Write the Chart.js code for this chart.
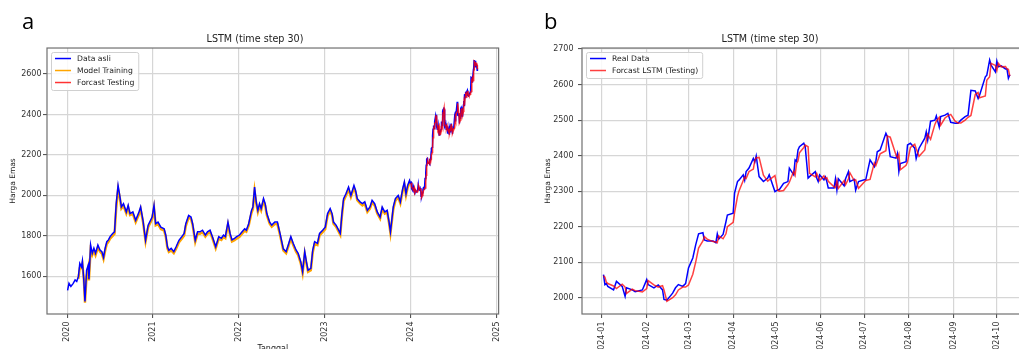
<!DOCTYPE html>
<html>
<head>
<meta charset="utf-8">
<title>LSTM (time step 30)</title>
<script src="https://cdn.jsdelivr.net/npm/chart.js@4.4.0/dist/chart.umd.min.js"></script>
<style>
  html, body { margin: 0; padding: 0; background: #fff; overflow: hidden; width: 1019px; height: 349px; }
  #panelA { position: absolute; left: 0; top: 0; }
  #panelB { position: absolute; left: 510px; top: 0; }
  .huruf { position: absolute; font-family: 'Open Sans', sans-serif; font-size: 22px; line-height: 22px; color: #000; }
</style>
</head>
<body>
<canvas id="panelA" width="510" height="380"></canvas>
<canvas id="panelB" width="530" height="380"></canvas>
<div class="huruf" style="left:22px; top:9px;">a</div>
<div class="huruf" style="left:544px; top:9px;">b</div>
<script>
// Data latih 2020 - 2023
const tglLatih = [
    '2020-01-03','2020-01-09','2020-01-17','2020-01-27','2020-02-04','2020-02-11','2020-02-18','2020-02-24','2020-03-02','2020-03-06',
    '2020-03-12','2020-03-17','2020-03-24','2020-03-31','2020-04-03','2020-04-10','2020-04-17','2020-04-24','2020-05-01','2020-05-11',
    '2020-05-20','2020-05-28','2020-06-04','2020-06-11','2020-06-18','2020-06-25','2020-07-02','2020-07-13','2020-07-21','2020-07-28',
    '2020-08-05','2020-08-12','2020-08-19','2020-08-28','2020-09-09','2020-09-17','2020-09-25','2020-10-07','2020-10-19','2020-11-02',
    '2020-11-09','2020-11-19','2020-11-30','2020-12-11','2020-12-28','2021-01-05','2021-01-12','2021-01-22','2021-02-03','2021-02-17',
    '2021-02-24','2021-03-03','2021-03-09','2021-03-19','2021-03-30','2021-04-09','2021-04-21','2021-05-03','2021-05-13','2021-05-20',
    '2021-06-01','2021-06-11','2021-06-18','2021-06-29','2021-07-09','2021-07-19','2021-07-30','2021-08-11','2021-08-20','2021-08-31',
    '2021-09-10','2021-09-24','2021-10-07','2021-10-18','2021-10-27','2021-11-04','2021-11-15','2021-11-24','2021-12-02','2021-12-13',
    '2021-12-22','2022-01-03','2022-01-14','2022-01-25','2022-02-01','2022-02-11','2022-02-23','2022-03-01','2022-03-08','2022-03-15',
    '2022-03-22','2022-03-29','2022-04-05','2022-04-15','2022-04-22','2022-04-29','2022-05-11','2022-05-20','2022-06-02','2022-06-13',
    '2022-06-24','2022-07-08','2022-07-20','2022-07-29','2022-08-09','2022-08-19','2022-08-31','2022-09-09','2022-09-20','2022-09-28',
    '2022-10-07','2022-10-14','2022-10-21','2022-11-02','2022-11-10','2022-11-18','2022-11-30','2022-12-09','2022-12-22','2023-01-02',
    '2023-01-12','2023-01-23','2023-01-31','2023-02-06','2023-02-17','2023-02-28','2023-03-07','2023-03-14','2023-03-21','2023-03-31',
    '2023-04-11','2023-04-21','2023-05-04','2023-05-11','2023-05-18','2023-05-30','2023-06-09','2023-06-19','2023-06-30','2023-07-11',
    '2023-07-20','2023-07-31','2023-08-11','2023-08-23','2023-09-01','2023-09-12','2023-09-22','2023-09-29','2023-10-06','2023-10-18',
    '2023-10-27','2023-11-08','2023-11-17','2023-11-27','2023-12-04','2023-12-11','2023-12-18','2023-12-26','2023-12-29'
];
const hargaLatih = [
    1530, 1565, 1550, 1565, 1582, 1575, 1598, 1664, 1647, 1676,
    1582, 1475, 1630, 1655, 1585, 1755, 1714, 1739, 1714, 1755,
    1730, 1722, 1693, 1739, 1771, 1780, 1796, 1812, 1820, 1959,
    2049, 2000, 1943, 1959, 1918, 1951, 1910, 1918, 1877, 1918,
    1943, 1877, 1778, 1853, 1893, 1951, 1860, 1868, 1843, 1835,
    1803, 1746, 1729, 1738, 1722, 1746, 1778, 1796, 1812, 1860,
    1901, 1893, 1860, 1778, 1820, 1820, 1828, 1804, 1820, 1828,
    1796, 1746, 1796, 1788, 1804, 1796, 1868, 1812, 1780, 1788,
    1796, 1804, 1820, 1835, 1828, 1860, 1926, 1943, 2041, 1968,
    1926, 1959, 1935, 1984, 1959, 1910, 1868, 1853, 1868, 1868,
    1812, 1736, 1722, 1755, 1796, 1763, 1730, 1714, 1672, 1623,
    1722, 1672, 1630, 1639, 1730, 1771, 1763, 1812, 1828, 1843,
    1910, 1935, 1910, 1868, 1853, 1828, 1812, 1910, 1984, 2008,
    2041, 2000, 2049, 2024, 1984, 1968, 1959, 1968, 1926, 1943,
    1976, 1959, 1918, 1893, 1943, 1918, 1926, 1877, 1820, 1943,
    1984, 2000, 1968, 2033, 2066, 2008, 2049, 2074, 2062
];
const prediksiLatih = [
    null, null, null, null, null, null, 1588, 1640, 1640, 1660,
    1590, 1470, 1600, 1642, 1580, 1728, 1705, 1726, 1704, 1742,
    1722, 1712, 1685, 1726, 1760, 1770, 1786, 1800, 1810, 1935,
    2030, 1992, 1935, 1948, 1910, 1940, 1902, 1908, 1868, 1906,
    1932, 1870, 1772, 1842, 1882, 1938, 1852, 1858, 1834, 1826,
    1795, 1738, 1720, 1728, 1714, 1736, 1768, 1786, 1802, 1848,
    1890, 1884, 1852, 1770, 1810, 1810, 1818, 1796, 1810, 1818,
    1788, 1738, 1786, 1780, 1794, 1788, 1855, 1804, 1772, 1778,
    1786, 1795, 1810, 1825, 1820, 1850, 1914, 1932, 2022, 1960,
    1918, 1948, 1926, 1972, 1950, 1902, 1860, 1845, 1858, 1858,
    1804, 1728, 1714, 1745, 1786, 1755, 1722, 1705, 1664, 1615,
    1710, 1664, 1622, 1630, 1718, 1760, 1754, 1802, 1818, 1833,
    1898, 1924, 1902, 1860, 1845, 1820, 1804, 1898, 1972, 1998,
    2030, 1992, 2036, 2015, 1976, 1960, 1950, 1958, 1918, 1934,
    1965, 1950, 1910, 1885, 1932, 1910, 1916, 1870, 1812, 1930,
    1974, 1990, 1960, 2022, 2054, 2000, 2038, 2062, 2054
];

// Data uji 2024 (dipakai di panel a dan b)
const tglUji = [
    '2024-01-02','2024-01-03','2024-01-04','2024-01-05','2024-01-09','2024-01-11','2024-01-15','2024-01-17','2024-01-18','2024-01-22',
    '2024-01-24','2024-01-29','2024-02-01','2024-02-02','2024-02-06','2024-02-09','2024-02-12','2024-02-13','2024-02-15','2024-02-19',
    '2024-02-21','2024-02-23','2024-02-26','2024-02-28','2024-03-01','2024-03-04','2024-03-06','2024-03-08','2024-03-11','2024-03-12',
    '2024-03-14','2024-03-18','2024-03-20','2024-03-21','2024-03-22','2024-03-25','2024-03-27','2024-03-28','2024-04-01','2024-04-02',
    '2024-04-04','2024-04-05','2024-04-08','2024-04-09','2024-04-10','2024-04-12','2024-04-15','2024-04-16','2024-04-17','2024-04-19',
    '2024-04-22','2024-04-25','2024-04-26','2024-04-30','2024-05-02','2024-05-03','2024-05-06','2024-05-09','2024-05-10','2024-05-13',
    '2024-05-14','2024-05-15','2024-05-16','2024-05-17','2024-05-20','2024-05-21','2024-05-23','2024-05-24','2024-05-28','2024-05-29',
    '2024-05-30','2024-05-31','2024-06-03','2024-06-04','2024-06-05','2024-06-06','2024-06-10','2024-06-11','2024-06-12','2024-06-13',
    '2024-06-17','2024-06-18','2024-06-20','2024-06-21','2024-06-24','2024-06-25','2024-06-27','2024-07-01','2024-07-02','2024-07-05',
    '2024-07-08','2024-07-09','2024-07-10','2024-07-12','2024-07-16','2024-07-17','2024-07-19','2024-07-23','2024-07-24','2024-07-25',
    '2024-07-26','2024-07-30','2024-07-31','2024-08-02','2024-08-05','2024-08-06','2024-08-08','2024-08-12','2024-08-13','2024-08-14',
    '2024-08-16','2024-08-19','2024-08-20','2024-08-22','2024-08-23','2024-08-26','2024-08-28','2024-08-30','2024-09-02','2024-09-04',
    '2024-09-06','2024-09-09','2024-09-11','2024-09-13','2024-09-16','2024-09-18','2024-09-19','2024-09-23','2024-09-24','2024-09-26',
    '2024-09-27','2024-09-30','2024-10-01','2024-10-02','2024-10-04','2024-10-07','2024-10-08','2024-10-09','2024-10-10'
];
const hargaUji = [
    2065, 2037, 2040, 2032, 2022, 2046, 2032, 2004, 2028, 2022,
    2017, 2022, 2051, 2037, 2028, 2036, 2022, 1995, 1993, 2013,
    2028, 2037, 2032, 2040, 2084, 2112, 2149, 2180, 2183, 2163,
    2160, 2160, 2155, 2180, 2165, 2178, 2214, 2233, 2238, 2295,
    2327, 2331, 2346, 2331, 2355, 2365, 2392, 2382, 2399, 2341,
    2327, 2337, 2346, 2299, 2304, 2304, 2322, 2327, 2365, 2346,
    2388, 2384, 2416, 2425, 2435, 2425, 2337, 2341, 2355, 2337,
    2327, 2346, 2332, 2340, 2327, 2309, 2309, 2335, 2303, 2335,
    2315, 2335, 2355, 2327, 2333, 2303, 2327, 2332, 2332, 2388,
    2369, 2383, 2411, 2416, 2463, 2454, 2397, 2393, 2406, 2355,
    2378, 2383, 2430, 2435, 2421, 2392, 2421, 2449, 2467, 2444,
    2497, 2500, 2512, 2481, 2510, 2514, 2519, 2494, 2491, 2491,
    2500, 2510, 2514, 2584, 2582, 2561, 2570, 2622, 2626, 2669,
    2655, 2636, 2666, 2650, 2653, 2644, 2644, 2618, 2628
];
const prediksiUji = [
    2062, 2058, 2044, 2040, 2033, 2026, 2038, 2030, 2012, 2024,
    2020, 2016, 2026, 2048, 2036, 2030, 2034, 2022, 1990, 2000,
    2008, 2022, 2030, 2030, 2036, 2066, 2100, 2140, 2160, 2172,
    2165, 2158, 2157, 2155, 2174, 2166, 2180, 2200, 2212, 2240,
    2285, 2300, 2330, 2340, 2336, 2355, 2362, 2386, 2394, 2395,
    2345, 2328, 2332, 2344, 2302, 2300, 2302, 2318, 2325, 2356,
    2345, 2378, 2385, 2408, 2423, 2430, 2425, 2350, 2340, 2350,
    2340, 2330, 2343, 2335, 2338, 2328, 2312, 2310, 2330, 2308,
    2330, 2318, 2335, 2352, 2330, 2332, 2308, 2326, 2330, 2333,
    2380, 2372, 2383, 2405, 2414, 2455, 2452, 2402, 2393, 2404,
    2360, 2373, 2383, 2423, 2432, 2420, 2398, 2416, 2443, 2460,
    2446, 2488, 2497, 2508, 2486, 2506, 2512, 2516, 2497, 2492,
    2492, 2500, 2508, 2513, 2572, 2578, 2563, 2568, 2612, 2622,
    2660, 2654, 2640, 2660, 2650, 2651, 2644, 2643, 2624
];

// Label sumbu
const tahunTicks = ['2020', '2021', '2022', '2023', '2024', '2025'];
const bulanTicks = ['2024-01', '2024-02', '2024-03', '2024-04', '2024-05', '2024-06', '2024-07', '2024-08', '2024-09', '2024-10'];
const hargaTicksA = [1600, 1800, 2000, 2200, 2400, 2600];
const hargaTicksB = [2000, 2100, 2200, 2300, 2400, 2500, 2600, 2700];

Chart.defaults.font.family = "'DejaVu Sans', sans-serif";
Chart.defaults.color = '#333';
Chart.defaults.animation = false;

// tanggal -> tahun desimal
function keTahun(tgl) {
    const d = new Date(tgl + 'T00:00:00Z');
    const th = d.getUTCFullYear();
    const awal = Date.UTC(th, 0, 1);
    const akhir = Date.UTC(th + 1, 0, 1);
    return th + (d.getTime() - awal) / (akhir - awal);
}

// tanggal -> jumlah hari sejak 2024-01-01
function keHari(tgl) {
    return (Date.parse(tgl + 'T00:00:00Z') - Date.UTC(2024, 0, 1)) / 86400000;
}

function titik(tgls, nilai, fx) {
    return tgls.map((t, i) => ({ x: fx(t), y: nilai[i] }));
}

// garis kotak di sekeliling area plot
const bingkai = {
    id: 'bingkai',
    afterDraw(chart) {
        const ctx = chart.ctx;
        const a = chart.chartArea;
        ctx.save();
        ctx.strokeStyle = '#707070';
        ctx.lineWidth = 1.2;
        ctx.strokeRect(a.left, a.top, a.right - a.left, a.bottom - a.top);
        ctx.restore();
    }
};

// legenda di dalam area plot (pojok kiri atas)
const legendaDalam = {
    id: 'legendaDalam',
    afterDraw(chart) {
        const ctx = chart.ctx;
        const a = chart.chartArea;
        const ds = chart.data.datasets;
        ctx.save();
        ctx.font = "7.7px 'DejaVu Sans'";
        let lebar = 0;
        ds.forEach(d => { lebar = Math.max(lebar, ctx.measureText(d.label).width); });
        const x0 = a.left + 4;
        const y0 = a.top + 4;
        const w = 26 + lebar + 4;
        const h = ds.length * 12 + 2;
        ctx.fillStyle = 'rgba(255,255,255,0.85)';
        ctx.strokeStyle = '#d0d0d0';
        ctx.lineWidth = 1;
        ctx.beginPath();
        ctx.roundRect(x0 + 0.5, y0 + 0.5, w, h, 2);
        ctx.fill();
        ctx.stroke();
        ds.forEach((d, i) => {
            const yy = y0 + 6.5 + i * 12;
            ctx.strokeStyle = d.borderColor;
            ctx.lineWidth = 1.5;
            ctx.beginPath();
            ctx.moveTo(x0 + 4, yy);
            ctx.lineTo(x0 + 20, yy);
            ctx.stroke();
            ctx.fillStyle = '#222';
            ctx.textBaseline = 'middle';
            ctx.fillText(d.label, x0 + 26, yy);
        });
        ctx.restore();
    }
};

const gayaGrid = { color: '#d6d6d6', lineWidth: 1.2, tickLength: 4, tickColor: '#444', tickWidth: 1 };

// ============ Panel a ============
new Chart(document.getElementById('panelA'), {
    type: 'line',
    data: {
        datasets: [
            {
                label: 'Data asli',
                data: titik(tglLatih, hargaLatih, keTahun).concat(titik(tglUji, hargaUji, keTahun)),
                borderColor: '#0000ff',
                order: 2
            },
            {
                label: 'Model Training',
                data: titik(tglLatih, prediksiLatih, keTahun),
                borderColor: '#ffa500',
                borderWidth: 2.4,
                order: 3
            },
            {
                label: 'Forcast Testing',
                data: titik(tglUji, prediksiUji, keTahun),
                borderColor: 'rgba(255,0,0,0.8)',
                order: 1
            }
        ]
    },
    options: {
        responsive: false,
        elements: { line: { borderWidth: 1.5, tension: 0 }, point: { radius: 0 } },
        layout: { padding: 0 },
        plugins: {
            legend: { display: false },
            tooltip: { enabled: false },
            title: {
                display: true,
                text: 'LSTM (time step 30)',
                color: '#222',
                font: { size: 9.6, weight: 'normal' },
                padding: { top: 34.2, bottom: 2.3 }
            }
        },
        scales: {
            x: {
                type: 'linear',
                min: 2019.766,
                max: 2025.02,
                afterBuildTicks: s => { s.ticks = tahunTicks.map(t => ({ value: Number(t) })); },
                afterFit: s => { s.height = 66; },
                ticks: { autoSkip: false, minRotation: 90, maxRotation: 90, padding: 3.5, font: { size: 8 }, callback: v => String(v) },
                grid: gayaGrid,
                border: { display: false },
                title: { display: true, text: 'Tanggal', color: '#222', font: { size: 8 }, padding: { top: 0, bottom: 26.2 } }
            },
            y: {
                type: 'linear',
                min: 1413.6,
                max: 2728.5,
                afterBuildTicks: s => { s.ticks = hargaTicksA.map(v => ({ value: v })); },
                afterFit: s => { s.width = 47; },
                ticks: { padding: 1.5, font: { size: 8 }, callback: v => String(v) },
                grid: gayaGrid,
                border: { display: false },
                title: { display: true, text: 'Harga Emas', color: '#222', font: { size: 7.5 }, padding: { top: 8.5, bottom: 0 } }
            }
        }
    },
    plugins: [bingkai, legendaDalam]
});

// ============ Panel b ============
new Chart(document.getElementById('panelB'), {
    type: 'line',
    data: {
        datasets: [
            {
                label: 'Real Data',
                data: titik(tglUji, hargaUji, keHari),
                borderColor: '#0000ff',
                order: 2
            },
            {
                label: 'Forcast LSTM (Testing)',
                data: titik(tglUji, prediksiUji, keHari),
                borderColor: 'rgba(255,0,0,0.75)',
                order: 1
            }
        ]
    },
    options: {
        responsive: false,
        elements: { line: { borderWidth: 1.5, tension: 0 }, point: { radius: 0 } },
        layout: { padding: { left: 0, right: 10, top: 0, bottom: 0 } },
        plugins: {
            legend: { display: false },
            tooltip: { enabled: false },
            title: {
                display: true,
                text: 'LSTM (time step 30)',
                color: '#222',
                font: { size: 9.6, weight: 'normal' },
                padding: { top: 34.2, bottom: 2.3 }
            }
        },
        scales: {
            x: {
                type: 'linear',
                min: -13.9,
                max: 297,
                afterBuildTicks: s => { s.ticks = bulanTicks.map(b => ({ value: keHari(b + '-01') })); },
                afterFit: s => { s.height = 66; },
                ticks: {
                    autoSkip: false, minRotation: 90, maxRotation: 90, padding: 3.5, font: { size: 8 },
                    callback: function (v, i) { return bulanTicks[i]; }
                },
                grid: gayaGrid,
                border: { display: false },
                title: { display: true, text: 'Tanggal', color: '#222', font: { size: 8 }, padding: { top: 0, bottom: 4 } }
            },
            y: {
                type: 'linear',
                min: 1954.2,
                max: 2703,
                afterBuildTicks: s => { s.ticks = hargaTicksB.map(v => ({ value: v })); },
                afterFit: s => { s.width = 72; },
                ticks: { padding: 4.5, font: { size: 8 }, callback: v => String(v) },
                grid: gayaGrid,
                border: { display: false },
                title: { display: true, text: 'Harga Emas', color: '#222', font: { size: 7.5 }, padding: { top: 34, bottom: 0 } }
            }
        }
    },
    plugins: [bingkai, legendaDalam]
});
</script>
</body>
</html>
